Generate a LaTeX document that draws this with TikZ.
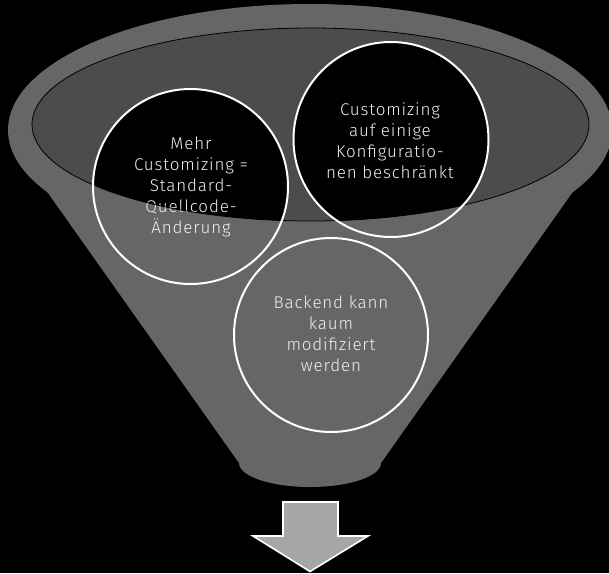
\documentclass[tikz,border=0pt]{standalone}
\usepackage{fontspec}
\setmainfont{Fira Sans Light}[LetterSpace=5]
\begin{document}
\begin{tikzpicture}[x=1pt,y=1pt,
  funnelgrey/.style={fill=black!60},
  innerell/.style={fill=black!70},
  bubbletext/.style={circle,minimum size=195pt,inner sep=0pt,align=center,
    text=black!6,font=\fontsize{17}{21}\selectfont},
  bubbleline/.style={draw=white,line width=2pt},
  arrowshape/.style={fill=black!35,draw=white,line width=1.6pt,line join=miter}]
\fill[black] (0,0) rectangle (609,-573);
\useasboundingbox (0,0) rectangle (609,-573);
% funnel body
\fill[funnelgrey] (310,-130) ellipse[x radius=302,y radius=126];
\fill[funnelgrey] (10.5,-140) -- (239,-463)
  arc[start angle=180,end angle=360,x radius=71,y radius=24]
  -- (609.5,-140) -- cycle;
% inner ellipse
\fill[innerell] (310.5,-124.5) ellipse[x radius=278.5,y radius=96.5];
\begin{scope}
  \clip (310.5,-124.5) ellipse[x radius=278.5,y radius=96.5];
  \fill[black] (190.5,-186.5) circle[radius=97.5];
  \fill[black] (391,-139.5) circle[radius=97.5];
\end{scope}
% texts
\node[bubbletext] (c1) at (191,-187) {Mehr\\Customizing =\\Standard-\\Quellcode-\\Änderung};
\node[bubbletext] (c2) at (390,-140.5) {Customizing\\auf einige\\Konfiguratio-\\nen beschränkt};
\node[bubbletext] (c3) at (331,-334) {Backend kann\\kaum\\modifiziert\\werden};
% ellipse outline
\draw[black,line width=0.8pt] (310.5,-124.5) ellipse[x radius=278.5,y radius=96.5];
% circle outlines
\draw[bubbleline] (190.5,-186.5) circle[radius=97.5];
\draw[bubbleline] (391,-139.5) circle[radius=97.5];
\draw[bubbleline] (331,-335) circle[radius=97];
% arrow
\draw[arrowshape] (283,-502) -- (338,-502) -- (338,-536) -- (368,-536)
  -- (310,-571.5) -- (253,-536) -- (283,-536) -- cycle;
\end{tikzpicture}
\end{document}
